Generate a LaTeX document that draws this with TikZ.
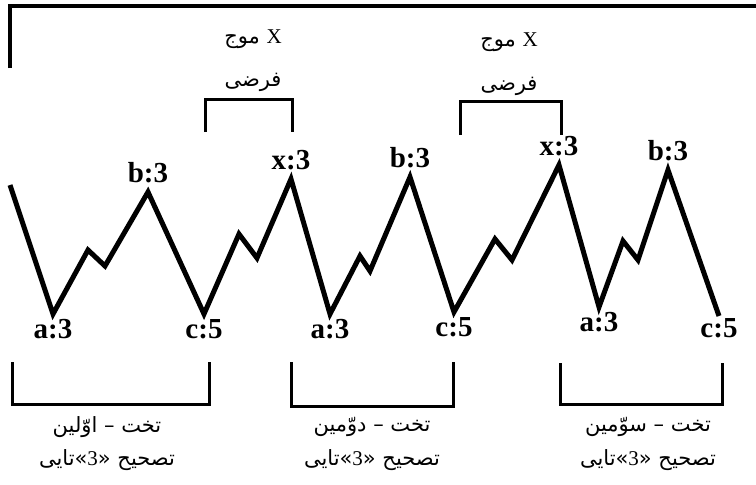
\documentclass[tikz,border=0pt]{standalone}
\usepackage{fontspec}
\setmainfont{Liberation Serif}
\newfontfamily\arabicfont[Script=Arabic]{DejaVu Sans}
\TeXXeTstate=1
\usetikzlibrary{positioning}
\tikzset{
  wave/.style={line width=5pt},
  brk/.style={line width=3pt},
  frm/.style={line width=4pt},
  lbl/.style={font=\bfseries\fontsize{29}{29}\selectfont, inner sep=0pt},
  fa/.style={font=\arabicfont\fontsize{21}{21}\selectfont, inner sep=0pt}
}

\begin{document}
\begin{tikzpicture}[x=1pt,y=-1pt]
\useasboundingbox (0,0) rectangle (756,485);
% frame and brackets
\draw[frm] (10,68) -- (10,6) -- (756,6);
\draw[brk] (205,132) -- (205,99) -- (292,99) -- (292,132);
\draw[brk] (460,135) -- (460,101) -- (561,101) -- (561,135);
\draw[brk] (12,362) -- (12,404) -- (209,404) -- (209,362);
\draw[brk] (291,362) -- (291,406) -- (453,406) -- (453,362);
\draw[brk] (560,363) -- (560,404) -- (722,404) -- (722,363);
% wave points
\coordinate (s0) at (10,185);
\coordinate (a1) at (53,314);
\coordinate (p1) at (88,250);
\coordinate (q1) at (105,266);
\coordinate (b1) at (148,192);
\coordinate (c1) at (204,314);
\coordinate (p2) at (239,234);
\coordinate (q2) at (257,258);
\coordinate (x1) at (291,179);
\coordinate (a2) at (330,314);
\coordinate (p3) at (360,256);
\coordinate (q3) at (370,271);
\coordinate (b2) at (410,177);
\coordinate (c2) at (454,312);
\coordinate (p4) at (495,239);
\coordinate (q4) at (512,260);
\coordinate (x2) at (559,165);
\coordinate (a3) at (599,307);
\coordinate (p5) at (623,241);
\coordinate (q5) at (638,260);
\coordinate (b3) at (668,170);
\coordinate (c3) at (719,316);
\draw[wave] (s0) -- (a1) -- (p1) -- (q1) -- (b1) -- (c1) -- (p2) -- (q2) -- (x1)
  -- (a2) -- (p3) -- (q3) -- (b2) -- (c2) -- (p4) -- (q4) -- (x2)
  -- (a3) -- (p5) -- (q5) -- (b3) -- (c3);
% wave labels
\node[lbl, below=5pt of a1] (ta1) {a:3};
\node[lbl, above=9pt of b1] (tb1) {b:3};
\node[lbl, below=5pt of c1] (tc1) {c:5};
\node[lbl, above=9pt of x1] (tx1) {x:3};
\node[lbl, below=5pt of a2] (ta2) {a:3};
\node[lbl, above=9pt of b2] (tb2) {b:3};
\node[lbl, below=5pt of c2] (tc2) {c:5};
\node[lbl, above=9pt of x2] (tx2) {x:3};
\node[lbl, below=5pt of a3] (ta3) {a:3};
\node[lbl, above=9pt of b3] (tb3) {b:3};
\node[lbl, below=2pt of c3] (tc3) {c:5};
% persian texts
\node[fa] (mx1) at (253,39) {\beginR موج\endR{} {\rmfamily X}};
\node[fa] (fx1) at (253,82) {\beginR فرضی\endR};
\node[fa] (mx2) at (509,42) {\beginR موج\endR{} {\rmfamily X}};
\node[fa] (fx2) at (509,86) {\beginR فرضی\endR};
\node[fa] (t1) at (107,427) {\beginR تخت – اوّلین\endR};
\node[fa] (u1) at (107,460) {\beginR تصحیح «{\rmfamily 3}»تایی\endR};
\node[fa] (t2) at (372,427) {\beginR تخت – دوّمین\endR};
\node[fa] (u2) at (372,460) {\beginR تصحیح «{\rmfamily 3}»تایی\endR};
\node[fa] (t3) at (648,427) {\beginR تخت – سوّمین\endR};
\node[fa] (u3) at (648,460) {\beginR تصحیح «{\rmfamily 3}»تایی\endR};
\end{tikzpicture}
\end{document}
